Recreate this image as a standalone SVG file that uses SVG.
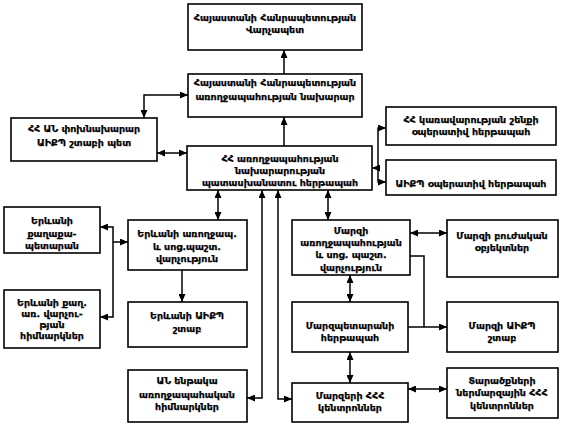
<svg xmlns="http://www.w3.org/2000/svg" width="565" height="434" viewBox="0 0 565 434">
<style>
.box{fill:#fff;stroke:#000;stroke-width:1.6}
.t{font-family:"DejaVu Sans","Noto Sans",sans-serif;font-size:9.5px;font-weight:bold;text-anchor:middle;fill:#000;stroke:#000;stroke-width:0.25}
.c{fill:none;stroke:#000;stroke-width:1.5}
</style>
<defs>
<marker id="a" markerUnits="userSpaceOnUse" markerWidth="8" markerHeight="7" refX="8" refY="3.5" orient="auto-start-reverse"><path d="M0,0 L8,3.5 L0,7 z" fill="#000"/></marker>
</defs>
<rect width="565" height="434" fill="#fff"/>
<g id="connectors">
<path class="c" d="M284,74 V50" marker-end="url(#a)"/>
<path class="c" d="M284,146 V117" marker-end="url(#a)"/>
<path class="c" d="M144,118 V95 H188" marker-start="url(#a)" marker-end="url(#a)"/>
<path class="c" d="M157,153 H187" marker-start="url(#a)" marker-end="url(#a)"/>
<path class="c" d="M386,128 H378 V182 H386" marker-start="url(#a)" marker-end="url(#a)"/>
<path class="c" d="M378,168 H372" marker-end="url(#a)"/>
<path class="c" d="M218,190 V220" marker-start="url(#a)" marker-end="url(#a)"/>
<path class="c" d="M182,270 V302" marker-end="url(#a)"/>
<path class="c" d="M100,227 H113 V317 H100" marker-start="url(#a)" marker-end="url(#a)"/>
<path class="c" d="M113,242 H128" marker-end="url(#a)"/>
<path class="c" d="M247,398 H262 V190" marker-start="url(#a)" marker-end="url(#a)"/>
<path class="c" d="M292,399 H278 V190" marker-start="url(#a)" marker-end="url(#a)"/>
<path class="c" d="M328,190 V220" marker-start="url(#a)" marker-end="url(#a)"/>
<path class="c" d="M410,233 H447" marker-start="url(#a)" marker-end="url(#a)"/>
<path class="c" d="M350,275 V302" marker-start="url(#a)" marker-end="url(#a)"/>
<path class="c" d="M350,352 V383" marker-start="url(#a)" marker-end="url(#a)"/>
<path class="c" d="M408,389 H447" marker-start="url(#a)" marker-end="url(#a)"/>
<path class="c" d="M410,256 H424 V327"/>
<path class="c" d="M408,327 H447" marker-end="url(#a)"/>
</g>
<g id="pm"><rect class="box" x="188" y="4" width="174" height="46"/>
<text class="t" x="275" y="21">Հայաստանի Հանրապետության</text><text class="t" x="275" y="33">Վարչապետ</text></g>
<g id="minister"><rect class="box" x="188" y="74" width="174" height="43"/>
<text class="t" x="275" y="86">Հայաստանի Հանրապետության</text><text class="t" x="275" y="100">առողջապահության նախարար</text></g>
<g id="deputy"><rect class="box" x="11" y="118" width="146" height="43"/>
<text class="t" x="84" y="132">ՀՀ ԱՆ փոխնախարար</text><text class="t" x="84" y="146">ԱԻՔՊ շտաբի պետ</text></g>
<g id="duty"><rect class="box" x="187" y="146" width="185" height="44"/>
<text class="t" x="280" y="162">ՀՀ առողջապահության</text><text class="t" x="280" y="174">նախարարության</text><text class="t" x="280" y="186">պատասխանատու հերթապահ</text></g>
<g id="gov"><rect class="box" x="386" y="107" width="170" height="38"/>
<text class="t" x="471" y="123">ՀՀ կառավարության շենքի</text><text class="t" x="471" y="135">օպերատիվ հերթապահ</text></g>
<g id="aikp-duty"><rect class="box" x="386" y="160" width="170" height="35"/>
<text class="t" x="471" y="187">ԱԻՔՊ օպերատիվ հերթապահ</text></g>
<g id="cityhall"><rect class="box" x="4" y="207" width="96" height="46"/>
<text class="t" x="52" y="224">Երևանի</text><text class="t" x="52" y="237">քաղաքա-</text><text class="t" x="52" y="249">պետարան</text></g>
<g id="yer-inst"><rect class="box" x="4" y="290" width="96" height="58"/>
<text class="t" x="52" y="306">Երևանի քաղ.</text><text class="t" x="52" y="317">առ. վարչու-</text><text class="t" x="52" y="328">թյան</text><text class="t" x="52" y="339">հիմնարկներ</text></g>
<g id="yer-health"><rect class="box" x="128" y="220" width="119" height="50"/>
<text class="t" x="187" y="237">Երևանի առողջապ.</text><text class="t" x="187" y="250">և սոց.պաշտ.</text><text class="t" x="187" y="262">վարչություն</text></g>
<g id="yer-aikp"><rect class="box" x="128" y="302" width="119" height="45"/>
<text class="t" x="187" y="319">Երևանի ԱԻՔՊ</text><text class="t" x="187" y="332">շտաբ</text></g>
<g id="an-inst"><rect class="box" x="128" y="370" width="119" height="52"/>
<text class="t" x="187" y="384">ԱՆ ենթակա</text><text class="t" x="187" y="398">առողջապահական</text><text class="t" x="187" y="410">հիմնարկներ</text></g>
<g id="marz-health"><rect class="box" x="292" y="220" width="118" height="55"/>
<text class="t" x="351" y="234">Մարզի</text><text class="t" x="351" y="246">առողջապահության</text><text class="t" x="351" y="258">և սոց. պաշտ.</text><text class="t" x="351" y="271">վարչություն</text></g>
<g id="marz-obj"><rect class="box" x="447" y="220" width="111" height="57"/>
<text class="t" x="502" y="239">Մարզի բուժական</text><text class="t" x="502" y="251">օբյեկտներ</text></g>
<g id="marzpet"><rect class="box" x="292" y="302" width="116" height="50"/>
<text class="t" x="350" y="329">Մարզպետարանի</text><text class="t" x="350" y="341">հերթապահ</text></g>
<g id="marz-aikp"><rect class="box" x="447" y="302" width="111" height="50"/>
<text class="t" x="502" y="329">Մարզի ԱԻՔՊ</text><text class="t" x="502" y="341">շտաբ</text></g>
<g id="marz-hhh"><rect class="box" x="292" y="383" width="116" height="39"/>
<text class="t" x="350" y="399">Մարզերի ՀՀՀ</text><text class="t" x="350" y="411">կենտրոններ</text></g>
<g id="terr-hhh"><rect class="box" x="447" y="368" width="111" height="50"/>
<text class="t" x="502" y="384">Տարածքների</text><text class="t" x="502" y="396">ներմարզային ՀՀՀ</text><text class="t" x="502" y="409">կենտրոններ</text></g>
</svg>
